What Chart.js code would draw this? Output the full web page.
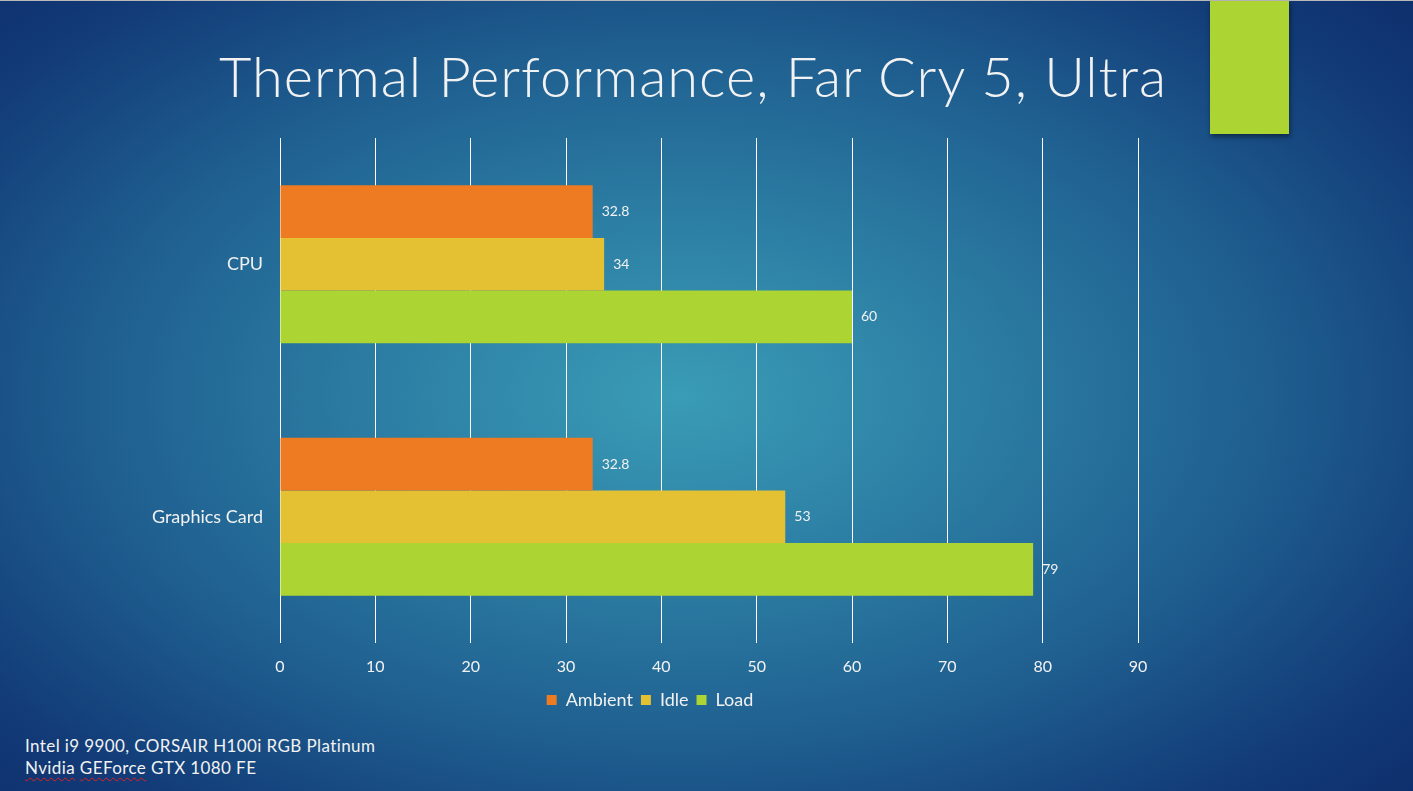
<!DOCTYPE html>
<html>
<head>
<meta charset="utf-8">
<script src="https://cdn.jsdelivr.net/npm/chart.js@4"></script>
<style>
  html, body { margin: 0; padding: 0; }
  body {
    width: 1413px; height: 791px; overflow: hidden; position: relative;
    background: radial-gradient(ellipse 75% 80% at 48% 50%, #3a9cb6 0%, #2c7ea4 28%, #1f5f90 55%, #123b77 80%, #0c2a68 100%);
    font-family: Lato, "Open Sans", sans-serif;
  }
  #topline { position: absolute; left: 0; top: 0; width: 1413px; height: 1px; background: #b9b9b9; }
  #accent {
    position: absolute; left: 1210px; top: 1px; width: 79px; height: 133px;
    background: #acd433; box-shadow: 1px 3px 5px rgba(0,0,0,0.45);
  }
  #title {
    position: absolute; left: 0; top: 42px; width: 1386px; text-align: center;
    color: #f2f2f2; font-size: 56px; font-weight: 300; letter-spacing: 1px;
  }
  #footer {
    position: absolute; left: 25px; top: 735px; color: #f2f2f2;
    font-size: 17px; line-height: 22px; letter-spacing: 0.4px;
  }
  .sp { text-decoration: underline wavy #e02020; text-decoration-thickness: 1px; text-underline-offset: 3px; }
  #wrap { position: absolute; left: 0; top: 0; width: 1413px; height: 791px; }
</style>
</head>
<body>
<div id="topline"></div>
<div id="accent"></div>
<div id="title">Thermal Performance, Far Cry 5, Ultra</div>
<div id="footer">Intel i9 9900, CORSAIR H100i RGB Platinum<br><span class="sp">Nvidia</span> <span class="sp">GEForce</span> GTX 1080 FE</div>
<div id="wrap"><canvas id="chart"></canvas></div>
<script>
const categories = ['CPU', 'Graphics Card'];
const ambient = [32.8, 32.8];
const idle = [34, 53];
const load = [60, 79];
const seriesNames = ['Ambient', 'Idle', 'Load'];
const seriesColors = ['#ee7b22', '#e4c033', '#acd433'];

const valueLabels = {
  id: 'valueLabels',
  afterDatasetsDraw(chart) {
    const ctx = chart.ctx;
    ctx.save();
    ctx.font = '14px Lato, "Open Sans", sans-serif';
    ctx.fillStyle = '#f2f2f2';
    ctx.textAlign = 'left';
    ctx.textBaseline = 'middle';
    chart.data.datasets.forEach((ds, i) => {
      chart.getDatasetMeta(i).data.forEach((bar, j) => {
        ctx.fillText(String(ds.data[j]), bar.x + 9, bar.y);
      });
    });
    ctx.restore();
  }
};

// legend sits centred on the whole chart frame, not the plot
const shiftLegend = {
  id: 'shiftLegend',
  afterLayout(chart) {
    if (!chart.legend) return;
    chart.legend.left += 81;
    chart.legend.right += 81;
  }
};

new Chart(document.getElementById('chart'), {
  type: 'bar',
  data: {
    labels: categories,
    datasets: [ambient, idle, load].map((d, i) => ({
      label: seriesNames[i],
      data: d,
      backgroundColor: seriesColors[i],
      borderWidth: 0,
      categoryPercentage: 0.625,
      barPercentage: 1.0
    }))
  },
  options: {
    indexAxis: 'y',
    responsive: true,
    maintainAspectRatio: false,
    animation: false,
    layout: { padding: { top: 138, right: 275, bottom: 72, left: 0 } },
    plugins: {
      legend: {
        position: 'bottom',
        labels: {
          color: '#f2f2f2',
          font: { family: 'Lato, "Open Sans", sans-serif', size: 18 },
          boxWidth: 10, boxHeight: 10, padding: 8
        }
      },
      tooltip: { enabled: false }
    },
    scales: {
      x: {
        min: 0, max: 90,
        ticks: { stepSize: 10, color: '#f2f2f2', padding: 14, font: { family: 'Lato, "Open Sans", sans-serif', size: 16 } },
        grid: { color: '#ffffff', lineWidth: 1, drawTicks: false },
        border: { display: false },
        afterFit(s) { s.height = 40; }
      },
      y: {
        ticks: { color: '#f2f2f2', padding: 9, font: { family: 'Lato, "Open Sans", sans-serif', size: 18 } },
        grid: { display: false },
        border: { display: false },
        afterFit(s) { s.width = 280; }
      }
    }
  },
  plugins: [valueLabels, shiftLegend]
});
</script>
</body>
</html>
